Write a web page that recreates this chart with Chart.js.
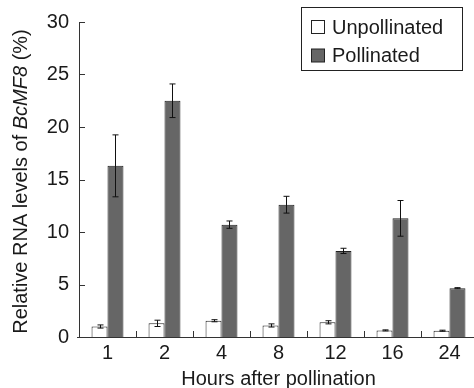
<!DOCTYPE html>
<html>
<head>
<meta charset="utf-8">
<script src="https://cdn.jsdelivr.net/npm/chart.js@4/dist/chart.umd.min.js"></script>
<style>
  html, body { margin: 0; padding: 0; background: #fff; overflow: hidden; }
  #wrap { width: 482px; height: 388px; }
</style>
</head>
<body>
<div id="wrap"><canvas id="c" width="482" height="388"></canvas></div>
<script>
const categories = ['1', '2', '4', '8', '12', '16', '24'];
const unpollinated = [1.0, 1.3, 1.55, 1.1, 1.4, 0.63, 0.6];
const unpollinatedErr = [0.15, 0.3, 0.1, 0.15, 0.15, 0.05, 0.05];
const pollinated = [16.3, 22.5, 10.7, 12.6, 8.2, 11.3, 4.65];
const pollinatedErr = [2.95, 1.6, 0.35, 0.8, 0.25, 1.7, 0.05];
const yTicks = [0, 5, 10, 15, 20, 25, 30];
const yTitleParts = [
  { text: 'Relative RNA levels of ', italic: false },
  { text: 'BcMF8', italic: true },
  { text: ' (%)', italic: false }
];

const FONT = "'Liberation Sans', Arial, Helvetica, sans-serif";
const AXIS = '#333333';
const TEXT = '#1a1a1a';

const errorBars = {
  id: 'errorBars',
  afterDatasetsDraw(chart) {
    const ctx = chart.ctx;
    const y = chart.scales.y;
    ctx.save();
    ctx.strokeStyle = '#111';
    ctx.lineWidth = 1;
    chart.data.datasets.forEach((ds, di) => {
      const meta = chart.getDatasetMeta(di);
      meta.data.forEach((bar, i) => {
        const v = ds.data[i], e = ds.err[i];
        const x = Math.round(bar.x) + 0.5;
        const yt = y.getPixelForValue(v + e);
        const yb = y.getPixelForValue(v - e);
        ctx.beginPath();
        ctx.moveTo(x, yt); ctx.lineTo(x, yb);
        ctx.moveTo(x - 3, yt); ctx.lineTo(x + 3, yt);
        ctx.moveTo(x - 3, yb); ctx.lineTo(x + 3, yb);
        ctx.stroke();
      });
    });
    ctx.restore();
  }
};

const axisMarks = {
  id: 'axisMarks',
  afterDraw(chart) {
    const ctx = chart.ctx;
    const xs = chart.scales.x, ys = chart.scales.y;
    const left = chart.chartArea.left, bottom = chart.chartArea.bottom;
    ctx.save();
    ctx.strokeStyle = AXIS;
    ctx.lineWidth = 1;
    ctx.beginPath();
    yTicks.forEach(t => {
      const py = Math.round(ys.getPixelForValue(t)) + 0.5;
      ctx.moveTo(left, py); ctx.lineTo(left + 6, py);
    });
    for (let i = 0; i < categories.length - 1; i++) {
      const px = Math.round((xs.getPixelForValue(i) + xs.getPixelForValue(i + 1)) / 2) + 0.5;
      ctx.moveTo(px, bottom); ctx.lineTo(px, bottom - 6);
    }
    ctx.moveTo(left - 2, Math.round(bottom) + 0.5); ctx.lineTo(left, Math.round(bottom) + 0.5);
    ctx.stroke();

    // y-axis title with italic gene name
    const size = 20;
    const fonts = yTitleParts.map(p => (p.italic ? 'italic ' : '') + size + 'px ' + FONT);
    let total = 0;
    const widths = yTitleParts.map((p, k) => { ctx.font = fonts[k]; const w = ctx.measureText(p.text).width; total += w; return w; });
    const cy = (ys.top + ys.bottom) / 2 + 2;
    ctx.save();
    ctx.translate(21, cy);
    ctx.rotate(-Math.PI / 2);
    ctx.textBaseline = 'middle';
    ctx.textAlign = 'left';
    ctx.fillStyle = TEXT;
    let xo = -total / 2;
    yTitleParts.forEach((p, k) => { ctx.font = fonts[k]; ctx.fillText(p.text, xo, 0); xo += widths[k]; });
    ctx.restore();

    // legend
    ctx.strokeStyle = '#222';
    ctx.strokeRect(301.5, 7.5, 161, 63);
    ctx.font = '20px ' + FONT;
    ctx.textBaseline = 'middle';
    ctx.textAlign = 'left';
    const rows = [27, 55.5];
    chart.data.datasets.forEach((ds, di) => {
      const ry = rows[di];
      ctx.fillStyle = ds.backgroundColor;
      ctx.fillRect(311.5, ry - 6.5, 13, 13);
      ctx.strokeStyle = '#222';
      ctx.strokeRect(311.5, ry - 6.5, 13, 13);
      ctx.fillStyle = TEXT;
      ctx.fillText(ds.label, 332, ry + 1);
    });
    ctx.restore();
  }
};

new Chart(document.getElementById('c'), {
  type: 'bar',
  data: {
    labels: categories,
    datasets: [
      { label: 'Unpollinated', data: unpollinated, err: unpollinatedErr,
        backgroundColor: '#ffffff', borderColor: '#222222', borderWidth: 1,
        categoryPercentage: 0.56, barPercentage: 1.0 },
      { label: 'Pollinated', data: pollinated, err: pollinatedErr,
        backgroundColor: '#666666', borderColor: '#222222', borderWidth: 1,
        categoryPercentage: 0.56, barPercentage: 1.0 }
    ]
  },
  options: {
    responsive: false,
    animation: false,
    layout: { padding: { top: 20, right: 4, left: 0, bottom: 0 } },
    plugins: { legend: { display: false }, tooltip: { enabled: false } },
    scales: {
      x: {
        grid: { display: false, drawTicks: false },
        border: { display: true, color: AXIS, width: 1 },
        ticks: { color: TEXT, font: { family: FONT, size: 20 }, padding: 4 },
        title: { display: true, text: 'Hours after pollination', color: TEXT,
                 font: { family: FONT, size: 20, lineHeight: 0.8 }, padding: { top: 0, bottom: 1 } },
        afterFit(s) { s.height = 51; }
      },
      y: {
        min: 0, max: 30,
        afterBuildTicks(s) { s.ticks = yTicks.map(v => ({ value: v })); },
        grid: { display: false, drawTicks: false },
        border: { display: true, color: AXIS, width: 1 },
        ticks: { color: TEXT, font: { family: FONT, size: 20 }, padding: 10 },
        title: { display: false },
        afterFit(s) { s.width = 79; }
      }
    }
  },
  plugins: [errorBars, axisMarks]
});
</script>
</body>
</html>
